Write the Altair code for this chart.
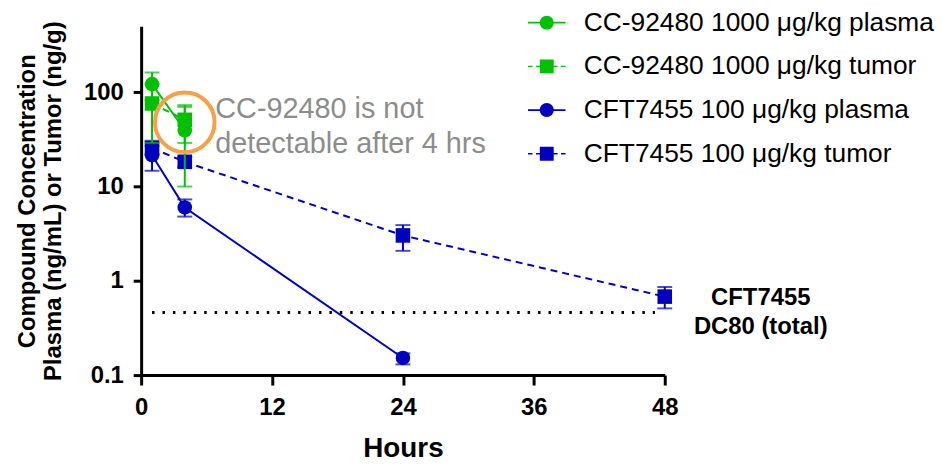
import altair as alt
import pandas as pd

# ---------------- data ----------------
series = [
    "CC-92480 1000 \u03bcg/kg plasma",
    "CC-92480 1000 \u03bcg/kg tumor",
    "CFT7455 100 \u03bcg/kg plasma",
    "CFT7455 100 \u03bcg/kg tumor",
]
series_colors = ["#00C000", "#00C000", "#0000C0", "#0000C0"]
series_shapes = ["circle", "square", "circle", "square"]
series_kind = ["plasma", "tumor", "plasma", "tumor"]

cc_hours = [1, 4]
cc_plasma = [122, 39.5]
cc_plasma_lo = [82, 10]
cc_plasma_hi = [162, 70]
cc_tumor = [76, 51]
cc_tumor_lo = [29, 29]
cc_tumor_hi = [123, 73]

cft_plasma_hours = [1, 4, 24]
cft_plasma = [21.5, 6.0, 0.152]
cft_plasma_lo = [14.7, 4.8, 0.13]
cft_plasma_hi = [27, 7.3, 0.17]

cft_tumor_hours = [1, 4, 24, 48]
cft_tumor = [25.5, 18.3, 3.03, 0.68]
cft_tumor_lo = [22, 16, 2.08, 0.51]
cft_tumor_hi = [30.6, 20.5, 3.9, 0.86]

dc80_value = 0.46
dc80_from = 1
dc80_to = 47.1
dc80_label = "CFT7455\nDC80 (total)"
dc80_label_hours = 56.8
dc80_label_conc = 0.66

note_text = "CC-92480 is not\ndetectable after 4 hrs"
note_hours = 6.8
note_conc = 66
ring_hours = 4
ring_conc = 48

x_ticks = [0, 12, 24, 36, 48]
y_ticks = [0.1, 1, 10, 100]

# legend symbols: marker with line through (dashed for tumor)
legend_paths = [
    "M-2.7,-0.13H-0.95V0.13H-2.7ZM0.95,-0.13H2.7V0.13H0.95Z"
    "M1,0A1,1,0,1,1,-1,0A1,1,0,1,1,1,0Z",
    "M-2.7,-0.1H-2.05V0.1H-2.7ZM-1.55,-0.1H-1V0.1H-1.55Z"
    "M1,-0.1H1.55V0.1H1ZM2.05,-0.1H2.7V0.1H2.05Z"
    "M-1,-1H1V1H-1Z",
    "M-2.7,-0.13H-0.95V0.13H-2.7ZM0.95,-0.13H2.7V0.13H0.95Z"
    "M1,0A1,1,0,1,1,-1,0A1,1,0,1,1,1,0Z",
    "M-2.7,-0.1H-2.05V0.1H-2.7ZM-1.55,-0.1H-1V0.1H-1.55Z"
    "M1,-0.1H1.55V0.1H1ZM2.05,-0.1H2.7V0.1H2.05Z"
    "M-1,-1H1V1H-1Z",
]

# ---------------- tables ----------------
def rows(idx, hours, vals, lo, hi):
    return pd.DataFrame({
        "series": series[idx],
        "color": series_colors[idx],
        "shape": series_shapes[idx],
        "kind": series_kind[idx],
        "hours": hours,
        "conc": vals,
        "lo": lo,
        "hi": hi,
    })

cc_df = pd.concat([
    rows(0, cc_hours, cc_plasma, cc_plasma_lo, cc_plasma_hi),
    rows(1, cc_hours, cc_tumor, cc_tumor_lo, cc_tumor_hi),
], ignore_index=True)
cft_df = pd.concat([
    rows(2, cft_plasma_hours, cft_plasma, cft_plasma_lo, cft_plasma_hi),
    rows(3, cft_tumor_hours, cft_tumor, cft_tumor_lo, cft_tumor_hi),
], ignore_index=True)
all_df = pd.concat([cft_df, cc_df], ignore_index=True)

FONT = "Liberation Sans"
xscale = alt.Scale(domain=[0, 48], nice=False, zero=False)
yscale = alt.Scale(type="log", domain=[0.1, 500], nice=False)
xaxis = alt.Axis(values=x_ticks, format="d", grid=False, domainColor="black",
                 domainWidth=3, tickColor="black", tickWidth=3, tickSize=10,
                 labelFontSize=24, labelFontWeight="bold", labelColor="black",
                 labelPadding=11, labelFlush=False, titleFontSize=28,
                 titleFontWeight="bold", titleColor="black", titlePadding=15)
yaxis = alt.Axis(values=y_ticks, format="~g", grid=False, domainColor="black",
                 domainWidth=3, tickColor="black", tickWidth=3, tickSize=8,
                 labelFontSize=24, labelFontWeight="bold", labelColor="black",
                 labelPadding=10, titleFontSize=24, titleFontWeight="bold",
                 titleColor="black", titleLineHeight=26, titlePadding=18)
XT = "Hours"
YT = ["Compound Concentration", "Plasma (ng/mL) or Tumor (ng/g)"]

def X(field="hours"):
    return alt.X(f"{field}:Q", scale=xscale, axis=xaxis, title=XT)

def Y(field="conc"):
    return alt.Y(f"{field}:Q", scale=yscale, axis=yaxis, title=YT)

def compound_layers(df):
    base = alt.Chart(df)
    solid = base.transform_filter(alt.datum.kind == "plasma").mark_line(
        strokeWidth=2).encode(x=X(), y=Y(), detail="series:N",
                              color=alt.Color("color:N", scale=None))
    dashed = base.transform_filter(alt.datum.kind == "tumor").mark_line(
        strokeWidth=2, strokeDash=[7, 5]).encode(
        x=X(), y=Y(), detail="series:N", color=alt.Color("color:N", scale=None))
    err = base.mark_errorbar(ticks=True, size=15, thickness=2).encode(
        x=X(), y=Y("lo"), y2="hi:Q", color=alt.Color("color:N", scale=None))
    pts = base.mark_point(filled=True, opacity=1, size=215).encode(
        x=X(), y=Y(), color=alt.Color("color:N", scale=None),
        shape=alt.Shape("shape:N", scale=None))
    return [solid, dashed, err, pts]

legend_kw = dict(title=None, orient="none", legendX=395, legendY=-17)
legend_layer = alt.Chart(all_df).mark_point(filled=True, opacity=0, size=196).encode(
    x=X(), y=Y(),
    color=alt.Color("series:N", scale=alt.Scale(domain=series, range=series_colors),
                    legend=alt.Legend(**legend_kw)),
    shape=alt.Shape("series:N", scale=alt.Scale(domain=series, range=legend_paths),
                    legend=alt.Legend(**legend_kw)),
)

dc80_df = pd.DataFrame({"x1": [dc80_from], "x2": [dc80_to], "conc": [dc80_value],
                        "tx": [dc80_label_hours], "ty": [dc80_label_conc],
                        "label": [dc80_label]})
dc80_rule = alt.Chart(dc80_df).mark_rule(color="black", strokeWidth=3,
                                         strokeDash=[2.5, 8]).encode(
    x=X("x1"), x2="x2:Q", y=Y())
dc80_text = alt.Chart(dc80_df).mark_text(
    align="center", baseline="middle", fontSize=24, fontWeight="bold",
    font=FONT, color="black", lineBreak="\n", lineHeight=29).encode(
    x=X("tx"), y=Y("ty"), text="label:N")

note_df = pd.DataFrame({"hours": [note_hours], "conc": [note_conc], "label": [note_text],
                        "rh": [ring_hours], "rc": [ring_conc]})
note_text_layer = alt.Chart(note_df).mark_text(
    align="left", baseline="middle", fontSize=29, font=FONT, color="#8C8C8C",
    lineBreak="\n", lineHeight=35).encode(x=X(), y=Y(), text="label:N")
ring = alt.Chart(note_df).mark_point(shape="circle", filled=False, size=3600,
                                     strokeWidth=4, color="#F7A048", opacity=1).encode(
    x=X("rh"), y=Y("rc"))

layers = [legend_layer, dc80_rule] + compound_layers(cft_df) + compound_layers(cc_df) + [
    ring, note_text_layer, dc80_text]

chart = alt.layer(*layers).properties(
    width=527, height=351,
    padding={"left": 7, "top": 0, "right": 0, "bottom": 0},
).configure(font=FONT).configure_view(stroke=None).configure_legend(
    labelFontSize=26.5, labelFont=FONT, labelColor="black", labelLimit=0,
    symbolSize=196, labelOffset=24, rowPadding=17, padding=0, symbolOpacity=1,
    symbolStrokeWidth=0,
)

chart.save("out.html", embed_options={"renderer": "svg", "actions": False})
